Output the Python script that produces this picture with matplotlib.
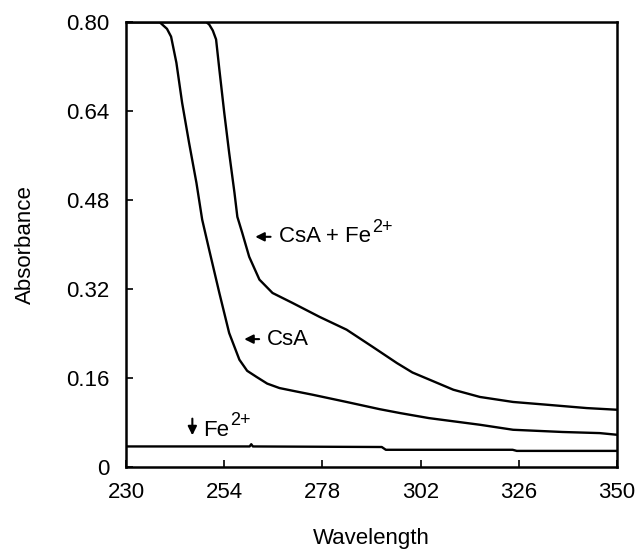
import numpy as np
import matplotlib.pyplot as plt

plt.rcParams['font.family'] = ['Liberation Sans', 'DejaVu Sans']

# CsA + Fe2+ trace
wl_csafe = [230, 249.6, 250.3, 251.2, 252.0, 252.8, 254.0, 255.2, 256.5, 257.2, 258.4, 260.1,
            262.6, 265.8, 270.7, 277.3, 283.9, 290.3, 296.2, 300, 304.2, 310, 316.5, 324.6,
            332.9, 342.6, 350]
abs_csafe = [0.80, 0.80, 0.796, 0.785, 0.769, 0.715, 0.637, 0.565, 0.493, 0.45, 0.421, 0.378,
             0.337, 0.313, 0.295, 0.27, 0.247, 0.216, 0.187, 0.17, 0.157, 0.139, 0.126, 0.117,
             0.112, 0.106, 0.103]

# CsA trace
wl_csa = [230, 238.2, 238.8, 240.0, 241.0, 242.3, 243.7, 245.4, 247.2, 248.6, 250.3, 252.8,
          255.2, 257.7, 259.6, 261.9, 264.5, 267.5, 271.5, 275.6, 283.9, 292.0, 297, 304,
          316.5, 324.6, 336.7, 345.8, 350]
abs_csa = [0.80, 0.80, 0.796, 0.788, 0.774, 0.727, 0.655, 0.583, 0.511, 0.445, 0.391, 0.313,
           0.241, 0.193, 0.173, 0.162, 0.15, 0.142, 0.136, 0.13, 0.117, 0.104, 0.097, 0.088,
           0.076, 0.067, 0.063, 0.061, 0.058]

# Fe2+ trace
wl_fe = [230, 260.2, 260.6, 261.0, 292.5, 293.5, 324.5, 325.5, 350]
abs_fe = [0.037, 0.037, 0.041, 0.037, 0.036, 0.031, 0.031, 0.029, 0.029]

x_ticks = [230, 254, 278, 302, 326, 350]
y_ticks = [0, 0.16, 0.32, 0.48, 0.64, 0.80]
y_labels = ['0', '0.16', '0.32', '0.48', '0.64', '0.80']

fig, ax = plt.subplots(figsize=(6.4, 5.54), dpi=100)
fig.subplots_adjust(left=0.197, right=0.964, top=0.96, bottom=0.157)

for wl, ab in [(wl_csafe, abs_csafe), (wl_csa, abs_csa), (wl_fe, abs_fe)]:
    ax.plot(wl, ab, color='black', lw=1.7, solid_joinstyle='round')

ax.set_xlim(230, 350)
ax.set_ylim(0, 0.80)
ax.set_xticks(x_ticks)
ax.set_yticks(y_ticks)
ax.set_yticklabels(y_labels)
ax.tick_params(direction='in', length=5, width=1.2, labelsize=16)
ax.tick_params(axis='x', pad=11)
ax.tick_params(axis='y', pad=12)
for s in ax.spines.values():
    s.set_linewidth(1.8)

ax.set_xlabel('Wavelength', fontsize=16, labelpad=18)
ax.set_ylabel('Absorbance', fontsize=16, labelpad=22)


def label_with_sup(x, y, base, sup):
    t = ax.text(x, y, base, fontsize=16, va='center')
    ax.annotate(sup, xy=(1, 0.55), xycoords=t, fontsize=13, va='bottom', ha='left',
                xytext=(0.5, 0), textcoords='offset points')


arrow = dict(arrowstyle='-|>', color='black', lw=1.5, mutation_scale=13)

ax.annotate('', xy=(260.9, 0.414), xytext=(266.0, 0.414), arrowprops=arrow)
label_with_sup(267.5, 0.414, 'CsA + Fe', '2+')

ax.annotate('', xy=(258.2, 0.23), xytext=(263.2, 0.23), arrowprops=arrow)
ax.text(264.3, 0.23, 'CsA', fontsize=16, va='center')

ax.annotate('', xy=(246.2, 0.052), xytext=(246.2, 0.092), arrowprops=arrow)
label_with_sup(248.8, 0.066, 'Fe', '2+')

fig.savefig('out.png', dpi=100)
